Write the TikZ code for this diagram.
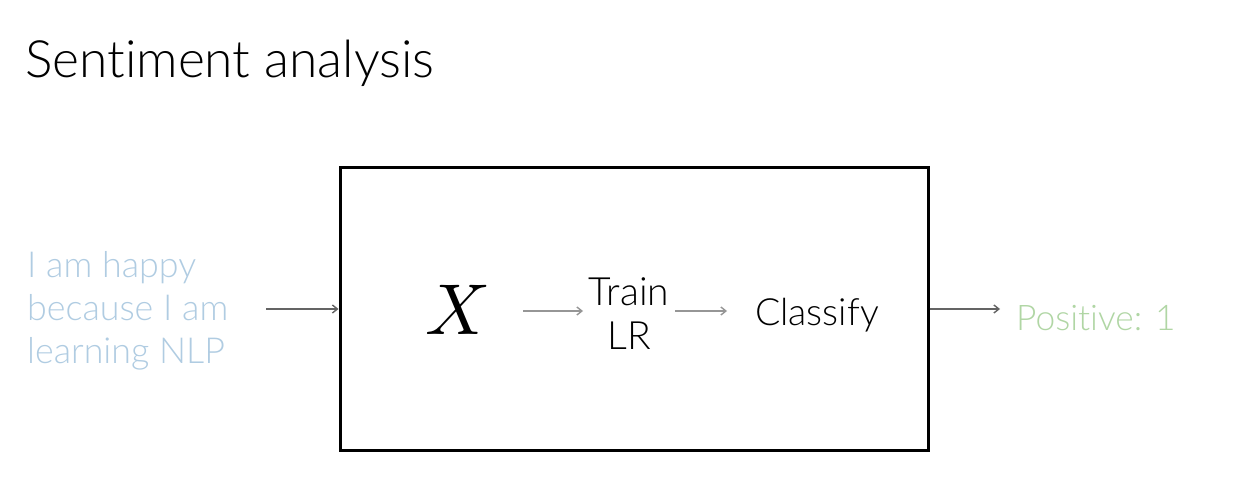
\documentclass[tikz,border=0pt]{standalone}
\usepackage{fontspec}
\setmainfont{Lato}[UprightFont={* Light},Ligatures=NoCommon]
\usetikzlibrary{arrows.meta}
\definecolor{inblue}{RGB}{176,204,226}
\definecolor{outgreen}{RGB}{176,214,164}
\definecolor{darkarrow}{RGB}{100,100,100}
\definecolor{lightarrow}{RGB}{150,150,150}
\begin{document}
\begin{tikzpicture}[x=1pt,y=-1pt,
  txt/.style={inner sep=0pt,anchor=base west},
  darr/.style={draw=darkarrow,line width=1.4pt,-{Straight Barb[length=5pt,width=8pt]}},
  larr/.style={draw=lightarrow,line width=1.4pt,-{Straight Barb[length=5pt,width=8pt]}}]
\useasboundingbox[fill=white] (0,0) rectangle (1252,478);
\node[txt,font=\fontsize{51.5}{60}\selectfont] (title) at (25,78) {Sentiment analysis};
\node[draw=black,line width=3pt,minimum width=588pt,minimum height=282pt,inner sep=0pt] (box) at (634,309) {};
\node[inner sep=0pt,align=left,anchor=west,text=inblue,font=\fontsize{35.8}{43}\selectfont] (input) at (27,311) {I am happy\\because I am\\learning NLP};
\node[inner sep=0pt] (x) at (458,310) {\scalebox{7.2}{$X$}};
\node[inner sep=0pt,align=center,font=\fontsize{39}{44}\selectfont] (train) at (629,314) {Train\\LR};
\node[inner sep=0pt,anchor=west,font=\fontsize{37.5}{40}\selectfont] (classify) at (755,315) {Classify};
\node[inner sep=0pt,anchor=west,text=outgreen,font=\fontsize{35.3}{40}\selectfont] (out) at (1016,318) {Positive: 1};
\coordinate (instart) at (266,309);
\draw[darr] (instart) -- (box.west |- instart);
\draw[larr] (523,311) -- (583,311);
\draw[larr] (675,311) -- (727,311);
\draw[darr] (box.east |- instart) -- (1000,309);
\end{tikzpicture}
\end{document}
